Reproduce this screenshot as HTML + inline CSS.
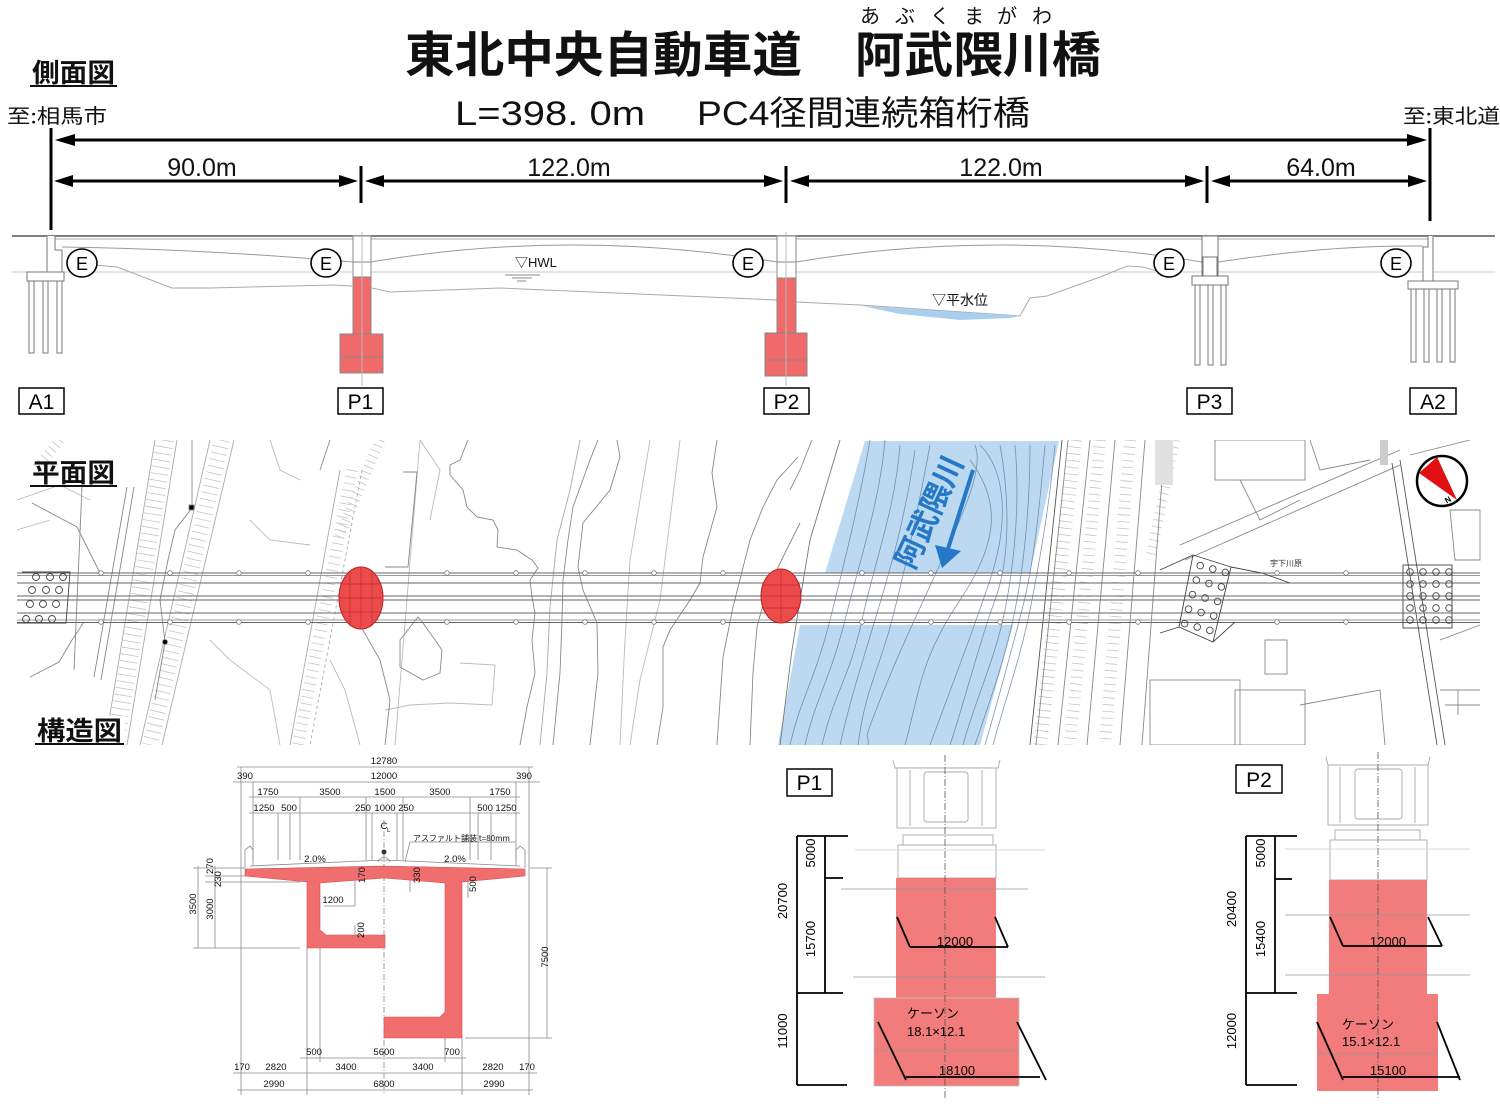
<!DOCTYPE html>
<html><head><meta charset="utf-8">
<style>
html,body{margin:0;padding:0;background:#fff;}
svg{display:block;}
text{font-family:"Liberation Sans","Noto Sans CJK JP",sans-serif;}
.jp{font-family:"Noto Sans CJK JP","Liberation Sans",sans-serif;}
</style></head><body>
<svg width="1500" height="1106" viewBox="0 0 1500 1106" xmlns="http://www.w3.org/2000/svg">
<rect width="1500" height="1106" fill="#fff"/>

<!-- ================= TITLES ================= -->
<g class="jp" fill="#111" font-size="20">
<text x="870" y="23" text-anchor="middle">あ</text>
<text x="905" y="23" text-anchor="middle">ぶ</text>
<text x="940" y="23" text-anchor="middle">く</text>
<text x="974" y="23" text-anchor="middle">ま</text>
<text x="1007" y="23" text-anchor="middle">が</text>
<text x="1042" y="23" text-anchor="middle">わ</text>
</g>
<text class="jp" x="405" y="72" font-size="49" font-weight="bold" fill="#111" textLength="397" lengthAdjust="spacingAndGlyphs">東北中央自動車道</text>
<text class="jp" x="855" y="72" font-size="49" font-weight="bold" fill="#111" textLength="246" lengthAdjust="spacingAndGlyphs">阿武隈川橋</text>
<text x="455" y="125" font-size="34" fill="#111" textLength="190" lengthAdjust="spacingAndGlyphs">L=398. 0m</text>
<text x="697" y="125" font-size="34" fill="#111" textLength="333" lengthAdjust="spacingAndGlyphs">PC4径間連続箱桁橋</text>

<text class="jp" x="32" y="82" font-size="26" font-weight="bold" fill="#111" textLength="83" lengthAdjust="spacingAndGlyphs">側面図</text>
<line x1="30" y1="86" x2="117" y2="86" stroke="#111" stroke-width="2"/>
<text class="jp" x="7" y="123" font-size="20" fill="#111" textLength="100" lengthAdjust="spacingAndGlyphs">至:相馬市</text>
<text class="jp" x="1403" y="123" font-size="20" fill="#111" textLength="97" lengthAdjust="spacingAndGlyphs">至:東北道</text>

<!-- ================= DIMENSIONS (side view) ================= -->
<g stroke="#000" stroke-width="3" fill="none">
<line x1="51" y1="128" x2="51" y2="230"/>
<line x1="1430" y1="128" x2="1430" y2="221"/>
<line x1="361" y1="166" x2="361" y2="203"/>
<line x1="786" y1="166" x2="786" y2="203"/>
<line x1="1207" y1="166" x2="1207" y2="203"/>
<line x1="70" y1="140" x2="1412" y2="140"/>
<line x1="70" y1="181" x2="342" y2="181"/>
<line x1="381" y1="181" x2="767" y2="181"/>
<line x1="806" y1="181" x2="1188" y2="181"/>
<line x1="1227" y1="181" x2="1412" y2="181"/>
</g>
<g fill="#000">
<polygon points="55,140 75,134 75,146"/>
<polygon points="1427,140 1407,134 1407,146"/>
<polygon points="54,181 73,175 73,187"/>
<polygon points="358,181 339,175 339,187"/>
<polygon points="365,181 384,175 384,187"/>
<polygon points="783,181 764,175 764,187"/>
<polygon points="790,181 809,175 809,187"/>
<polygon points="1204,181 1185,175 1185,187"/>
<polygon points="1211,181 1230,175 1230,187"/>
<polygon points="1427,181 1408,175 1408,187"/>
</g>
<g font-size="25" fill="#111" text-anchor="middle">
<text x="202" y="176">90.0m</text>
<text x="569" y="176">122.0m</text>
<text x="1001" y="176">122.0m</text>
<text x="1321" y="176">64.0m</text>
</g>

<!-- ================= SIDE VIEW ================= -->
<g fill="none" stroke="#999" stroke-width="1">
<line x1="12" y1="272" x2="1495" y2="272" stroke="#c8c8c8"/>
<line x1="12" y1="236" x2="1495" y2="236" stroke="#555" stroke-width="1.4"/>
<line x1="55" y1="239" x2="1428" y2="239" stroke="#aaa"/>
<path d="M62,247 Q200,249 353,262 M371,262 Q570,228 777,262 M796,262 Q1000,228 1202,262 M1218,262 Q1330,245 1423,246"/>
<path d="M95,265 L117,267 L172,288 L210,288 L333,285 L352,286 M372,288 L390,292 L500,288 L777,300 M796,302 L860,305 L1020,316 L1030,298 L1047,296 L1100,277 L1127,266 L1143,267 L1160,272" stroke="#aaa"/>
</g>
<path d="M862,306 L1020,316 L1010,318 L960,320 L900,314 Z" fill="#a9cff0"/>
<g stroke="#888" stroke-width="1" fill="none">
<line x1="505" y1="275" x2="540" y2="275"/>
<line x1="512" y1="278" x2="532" y2="278"/>
<line x1="517" y1="281" x2="526" y2="281"/>
</g>
<text x="515" y="267" font-size="13" fill="#111">▽HWL</text>
<text class="jp" x="932" y="305" font-size="14" fill="#111">▽平水位</text>

<!-- A1 -->
<g fill="#fff" stroke="#777" stroke-width="1">
<path d="M47,236 L47,272 L62,272 L62,250 L55,250 L55,236"/>
<rect x="27" y="272" width="37" height="9"/>
<rect x="29" y="281" width="5" height="72"/>
<rect x="43" y="281" width="5" height="72"/>
<rect x="57" y="281" width="5" height="72"/>
</g>
<!-- P1 -->
<g stroke="#888" stroke-width="1">
<rect x="353" y="236" width="18" height="41" fill="#fff"/>
<line x1="353" y1="262" x2="371" y2="262"/>
<rect x="353" y="277" width="18" height="57" fill="#f06a6a"/>
<rect x="340" y="334" width="43" height="39" fill="#f06a6a"/>
<line x1="340" y1="357" x2="383" y2="357"/>
<line x1="362" y1="232" x2="362" y2="386" stroke="#bbb"/>
</g>
<!-- P2 -->
<g stroke="#888" stroke-width="1">
<rect x="777" y="236" width="19" height="42" fill="#fff"/>
<line x1="777" y1="262" x2="796" y2="262"/>
<rect x="777" y="278" width="19" height="55" fill="#f06a6a"/>
<rect x="765" y="333" width="42" height="43" fill="#f06a6a"/>
<line x1="765" y1="360" x2="807" y2="360"/>
<line x1="786" y1="232" x2="786" y2="386" stroke="#bbb"/>
</g>
<!-- P3 -->
<g fill="#fff" stroke="#777" stroke-width="1">
<rect x="1202" y="236" width="16" height="40"/>
<rect x="1203" y="257" width="14" height="19"/>
<rect x="1192" y="276" width="36" height="9"/>
<rect x="1195" y="285" width="5" height="80"/>
<rect x="1208" y="285" width="5" height="80"/>
<rect x="1221" y="285" width="5" height="80"/>
</g>
<!-- A2 -->
<g fill="#fff" stroke="#777" stroke-width="1">
<path d="M1428,236 L1428,247 L1423,247 L1423,281 L1433,281 L1433,236"/>
<rect x="1408" y="281" width="50" height="8"/>
<rect x="1411" y="289" width="5" height="73"/>
<rect x="1424" y="289" width="5" height="73"/>
<rect x="1437" y="289" width="5" height="73"/>
<rect x="1450" y="289" width="5" height="73"/>
</g>
<!-- E circles -->
<g fill="#fff" stroke="#000" stroke-width="1.6">
<ellipse cx="82" cy="263" rx="15" ry="14"/>
<ellipse cx="326" cy="263" rx="15" ry="14"/>
<ellipse cx="748" cy="263" rx="15" ry="14"/>
<ellipse cx="1169" cy="263" rx="15" ry="14"/>
<ellipse cx="1396" cy="263" rx="15" ry="14"/>
</g>
<g font-size="18" fill="#000" text-anchor="middle">
<text x="82" y="270">E</text><text x="326" y="270">E</text><text x="748" y="270">E</text><text x="1169" y="270">E</text><text x="1396" y="270">E</text>
</g>
<!-- Labels -->
<g fill="#fff" stroke="#000" stroke-width="1.5">
<rect x="19" y="388" width="45" height="26"/>
<rect x="338" y="388" width="45" height="26"/>
<rect x="764" y="388" width="45" height="26"/>
<rect x="1187" y="388" width="45" height="26"/>
<rect x="1410" y="388" width="46" height="26"/>
</g>
<g font-size="21" fill="#000" text-anchor="middle">
<text x="41.5" y="409">A1</text><text x="360.5" y="409">P1</text><text x="786.5" y="409">P2</text><text x="1209.5" y="409">P3</text><text x="1433" y="409">A2</text>
</g>

<!-- ================= PLAN VIEW ================= -->
<defs>
<clipPath id="planclip"><rect x="17" y="440" width="1465" height="305"/></clipPath>
</defs>
<g clip-path="url(#planclip)">
<!-- blue river -->
<polygon points="865,441 1059,441 1030,573 825,573" fill="#bcd9f1"/>
<polygon points="800,625 1013,625 980,745 778,745" fill="#bcd9f1"/>

<!-- hatch bands -->
<g fill="none" stroke="#c4c4c4">
<line x1="165" y1="440" x2="115" y2="745" stroke-width="18" stroke-dasharray="0.8 6"/>
<line x1="222" y1="440" x2="150" y2="745" stroke-width="16" stroke-dasharray="0.8 6"/>
<line x1="352" y1="470" x2="298" y2="745" stroke-width="12" stroke-dasharray="0.8 6"/>
<line x1="60" y1="440" x2="35" y2="470" stroke-width="10" stroke-dasharray="0.8 5"/>
<line x1="380" y1="440" x2="338" y2="540" stroke-width="10" stroke-dasharray="0.8 5"/>
<line x1="1075" y1="440" x2="1040" y2="745" stroke-width="14" stroke-dasharray="0.8 6"/>
<line x1="1100" y1="440" x2="1070" y2="745" stroke-width="12" stroke-dasharray="0.8 6"/>
<line x1="1130" y1="440" x2="1105" y2="745" stroke-width="12" stroke-dasharray="0.8 6"/>
<line x1="1175" y1="440" x2="1150" y2="560" stroke-width="10" stroke-dasharray="0.8 6"/>
</g>
<g fill="none" stroke="#888" stroke-width="0.9">
<!-- left side lines -->
<line x1="82" y1="487" x2="74" y2="670"/>
<line x1="127" y1="487" x2="94" y2="677"/>
<line x1="134" y1="487" x2="101" y2="680"/>
<line x1="155" y1="440" x2="105" y2="745" stroke="#aaa"/>
<line x1="177" y1="440" x2="127" y2="745" stroke="#aaa"/>
<line x1="210" y1="440" x2="140" y2="745" stroke="#aaa"/>
<line x1="234" y1="440" x2="162" y2="745" stroke="#aaa"/>
<path d="M192,440 L192,508 L175,530 L168,560 L160,600 L165,642 L155,700"/>
<rect x="189" y="505" width="5" height="5" fill="#000"/>
<circle cx="165" cy="642" r="2.5" fill="#000"/>
<path d="M32,503 L77,527 L100,573"/>
<path d="M30,677 L59,662 L72,640 L84,622"/>
<path d="M17,500 L60,485 L90,500" stroke="#bbb"/>
<path d="M17,530 L50,520" stroke="#bbb"/>
<line x1="340" y1="470" x2="290" y2="745" stroke="#aaa"/>
<line x1="362" y1="470" x2="310" y2="745" stroke-dasharray="3 3" stroke="#aaa"/>
<line x1="420" y1="440" x2="395" y2="745" stroke="#bbb"/>
<line x1="330" y1="440" x2="320" y2="470" />
<!-- contours middle -->
<path d="M468,440 L460,460 L450,465 L450,475 L463,490 L467,507 L477,517 L493,520 L498,530 L497,547 L517,550 L532,560 L538,568 L530,580 L532,597 L535,613 L532,640 L535,673 L527,707 L520,745"/>
<path d="M598,440 L590,460 L573,507 L568,540 L563,580 L562,620 L560,673 L553,745"/>
<path d="M580,440 L570,490 L557,540 L550,607 L547,673 L540,745" stroke="#aaa"/>
<path d="M617,440 L620,457 L610,490 L583,523 L578,567 L583,590 L597,623 L598,673 L590,745"/>
<path d="M717,440 L712,473 L717,507 L703,557 L700,583 L690,600 L670,630 L663,647 L663,707 L657,745"/>
<path d="M798,457 L777,480 L763,507 L750,540 L733,607 L723,657 L717,745"/>
<path d="M800,523 L783,557 L767,590 L757,627 L753,673 L750,745"/>
<path d="M812,440 L800,470 L790,490" />
<path d="M840,440 L825,490 L810,540 L800,600 L792,650 L780,745" stroke="#777"/>
<path d="M418,617 L400,640 L400,667 L423,680 L440,673 L442,650 L423,623 Z"/>
<path d="M403,472 L417,472 L408,567 L385,567" />
<path d="M460,663 L495,665 L492,705 L450,703 L410,705 L385,710" stroke="#bbb"/>
<path d="M420,440 L440,470 L430,520" stroke="#bbb"/>
<path d="M270,440 L280,470 L300,480" stroke="#bbb"/>
<path d="M250,520 L270,540 L310,545" stroke="#bbb"/>
<path d="M360,625 L380,660 L390,700 L385,745"/>
<path d="M330,660 L345,690 L360,745" stroke="#bbb"/>
<path d="M210,640 L230,660 L270,690 L280,745" stroke="#bbb"/>
<path d="M650,440 L640,500 L630,560 L625,640 L620,745" stroke="#bbb"/>
<path d="M680,440 L670,520 L660,600 L640,680 L630,745" stroke="#bbb"/>
</g>
<!-- river contours -->
<g fill="none" stroke="#5f7d9c" stroke-width="0.8" opacity="0.8">
<path d="M870,440 C860,500 845,560 830,620 S800,700 790,745"/>
<path d="M885,440 C880,500 860,560 845,620 S815,700 805,745"/>
<path d="M900,445 C895,510 875,560 862,620 S835,690 822,745"/>
<path d="M915,450 C905,520 890,570 875,620 S850,700 840,745"/>
<path d="M930,445 C920,500 905,570 892,620 S865,690 858,745"/>
<path d="M975,445 C985,470 960,520 935,575 S900,650 880,700 S870,730 868,745"/>
<path d="M970,460 C1000,500 1000,540 960,600 S920,690 905,745"/>
<path d="M980,445 C1005,470 1010,520 990,580 S950,690 930,745"/>
<path d="M1000,445 C1010,500 1010,560 995,600 S965,700 950,745"/>
<path d="M1015,445 C1020,500 1015,560 1005,610 S975,700 963,745"/>
<path d="M1030,445 C1030,500 1025,560 1015,610 S990,700 975,745"/>
<path d="M1045,445 C1040,500 1035,560 1022,610 S998,700 985,745"/>
<path d="M1055,445 C1050,500 1040,560 1030,610 S1005,700 993,745"/>
</g>
<!-- right side -->
<g fill="none" stroke="#888" stroke-width="0.9">
<line x1="1062" y1="440" x2="1030" y2="745" stroke="#555"/>
<line x1="1068" y1="440" x2="1036" y2="745"/>
<line x1="1090" y1="440" x2="1058" y2="745"/>
<line x1="1115" y1="440" x2="1087" y2="745"/>
<line x1="1145" y1="440" x2="1120" y2="745"/>
<line x1="1165" y1="440" x2="1142" y2="745"/>
<path d="M1180,545 L1400,450"/>
<path d="M1185,560 L1400,465"/>
<path d="M1392,463 L1437,745" stroke="#555"/>
<path d="M1400,460 L1445,745" stroke="#555"/>
<path d="M1410,455 L1470,440"/>
<rect x="1215" y="440" width="90" height="40"/>
<rect x="1265" y="640" width="22" height="34"/>
<rect x="1150" y="680" width="90" height="65"/>
<rect x="1235" y="690" width="70" height="55"/>
<path d="M1300,705 L1380,690 L1385,745"/>
<path d="M1440,690 L1480,690 M1445,705 L1480,705 M1458,690 L1458,715"/>
<path d="M1440,640 L1480,625"/>
<path d="M1450,510 L1480,510 L1480,560 L1455,560 Z"/>
<path d="M1310,440 L1320,470 L1370,460"/>
<path d="M1240,480 L1260,520 L1300,500"/>
</g>
<rect x="1380" y="440" width="8" height="25" fill="#ccc"/>
<rect x="1155" y="440" width="18" height="45" fill="#e0e0e0"/>

<!-- bridge lines -->
<g stroke="#666" stroke-width="1" fill="none">
<line x1="17" y1="573" x2="1480" y2="573"/>
<line x1="17" y1="575.5" x2="1480" y2="575.5" stroke="#999"/>
<line x1="17" y1="583" x2="1480" y2="583"/>
<line x1="17" y1="596" x2="1480" y2="596"/>
<line x1="17" y1="600" x2="1480" y2="600"/>
<line x1="17" y1="613" x2="1480" y2="613"/>
<line x1="17" y1="620" x2="1480" y2="620" stroke="#999"/>
<line x1="17" y1="622.5" x2="1480" y2="622.5"/>
</g>
<g fill="#fff" stroke="#777" stroke-width="0.8">
<circle cx="101" cy="573" r="2.3"/><circle cx="170" cy="573" r="2.3"/><circle cx="239" cy="573" r="2.3"/><circle cx="308" cy="573" r="2.3"/><circle cx="447" cy="573" r="2.3"/><circle cx="516" cy="573" r="2.3"/><circle cx="585" cy="573" r="2.3"/><circle cx="654" cy="573" r="2.3"/><circle cx="723" cy="573" r="2.3"/><circle cx="862" cy="573" r="2.3"/><circle cx="931" cy="573" r="2.3"/><circle cx="1000" cy="573" r="2.3"/><circle cx="1069" cy="573" r="2.3"/><circle cx="1138" cy="573" r="2.3"/><circle cx="1277" cy="573" r="2.3"/><circle cx="1346" cy="573" r="2.3"/>
<circle cx="101" cy="622" r="2.3"/><circle cx="170" cy="622" r="2.3"/><circle cx="239" cy="622" r="2.3"/><circle cx="308" cy="622" r="2.3"/><circle cx="447" cy="622" r="2.3"/><circle cx="516" cy="622" r="2.3"/><circle cx="585" cy="622" r="2.3"/><circle cx="654" cy="622" r="2.3"/><circle cx="723" cy="622" r="2.3"/><circle cx="862" cy="622" r="2.3"/><circle cx="931" cy="622" r="2.3"/><circle cx="1000" cy="622" r="2.3"/><circle cx="1069" cy="622" r="2.3"/><circle cx="1138" cy="622" r="2.3"/><circle cx="1277" cy="622" r="2.3"/><circle cx="1346" cy="622" r="2.3"/>
</g>
<!-- A1 pile group -->
<g fill="none" stroke="#444" stroke-width="0.9">
<path d="M22,572 L70,572 L66,623 L17,623"/>
<circle cx="36" cy="577" r="3.5"/><circle cx="50" cy="577" r="3.5"/><circle cx="63" cy="577" r="3.5"/>
<circle cx="32" cy="590" r="3.5"/><circle cx="46" cy="590" r="3.5"/><circle cx="59" cy="590" r="3.5"/>
<circle cx="30" cy="604" r="3.5"/><circle cx="43" cy="604" r="3.5"/><circle cx="56" cy="604" r="3.5"/>
<circle cx="26" cy="619" r="3.5"/><circle cx="39" cy="619" r="3.5"/><circle cx="52" cy="619" r="3.5"/>
</g>
<!-- P3 pile group -->
<g fill="none" stroke="#444" stroke-width="0.9">
<polygon points="1193,555 1231,567 1213,642 1179,627"/>
<path d="M1160,570 L1193,555 M1231,567 L1262,573 L1290,583 M1179,627 L1160,633 M1213,642 L1235,622"/>
<g transform="rotate(15 1205 598)">
<circle cx="1192" cy="568" r="3.3"/><circle cx="1205" cy="568" r="3.3"/><circle cx="1218" cy="568" r="3.3"/>
<circle cx="1192" cy="583" r="3.3"/><circle cx="1205" cy="583" r="3.3"/><circle cx="1218" cy="583" r="3.3"/>
<circle cx="1192" cy="598" r="3.3"/><circle cx="1205" cy="598" r="3.3"/><circle cx="1218" cy="598" r="3.3"/>
<circle cx="1192" cy="613" r="3.3"/><circle cx="1205" cy="613" r="3.3"/><circle cx="1218" cy="613" r="3.3"/>
<circle cx="1192" cy="628" r="3.3"/><circle cx="1205" cy="628" r="3.3"/><circle cx="1218" cy="628" r="3.3"/>
</g>
</g>
<!-- A2 pile group -->
<g fill="none" stroke="#444" stroke-width="0.9">
<rect x="1403" y="565" width="49" height="63"/>
<circle cx="1410" cy="572" r="3.3"/><circle cx="1423" cy="572" r="3.3"/><circle cx="1436" cy="572" r="3.3"/><circle cx="1449" cy="572" r="3.3"/>
<circle cx="1410" cy="584" r="3.3"/><circle cx="1423" cy="584" r="3.3"/><circle cx="1436" cy="584" r="3.3"/><circle cx="1449" cy="584" r="3.3"/>
<circle cx="1410" cy="596" r="3.3"/><circle cx="1423" cy="596" r="3.3"/><circle cx="1436" cy="596" r="3.3"/><circle cx="1449" cy="596" r="3.3"/>
<circle cx="1410" cy="608" r="3.3"/><circle cx="1423" cy="608" r="3.3"/><circle cx="1436" cy="608" r="3.3"/><circle cx="1449" cy="608" r="3.3"/>
<circle cx="1410" cy="620" r="3.3"/><circle cx="1423" cy="620" r="3.3"/><circle cx="1436" cy="620" r="3.3"/><circle cx="1449" cy="620" r="3.3"/>
</g>
<text x="1270" y="566" font-size="8" fill="#333" class="jp">宇下川原</text>

<!-- red ellipses -->
<ellipse cx="361" cy="598" rx="22" ry="31" fill="#ec4b4b" stroke="#c02020" stroke-width="1"/>
<ellipse cx="781" cy="596" rx="20" ry="27" fill="#ec4b4b" stroke="#c02020" stroke-width="1"/>
<g stroke="#a01818" stroke-width="0.7" opacity="0.6">
<line x1="341" y1="584" x2="381" y2="584"/><line x1="340" y1="598" x2="382" y2="598"/><line x1="341" y1="612" x2="381" y2="612"/><line x1="361" y1="568" x2="361" y2="628"/><line x1="350" y1="570" x2="350" y2="626"/><line x1="372" y1="570" x2="372" y2="626"/>
<line x1="762" y1="585" x2="800" y2="585"/><line x1="761" y1="596" x2="801" y2="596"/><line x1="762" y1="608" x2="800" y2="608"/><line x1="781" y1="570" x2="781" y2="622"/>
</g>

<!-- river label -->
<text class="jp" x="927" y="511" font-size="30" font-weight="bold" fill="#2378c8" text-anchor="middle" dominant-baseline="central" textLength="120" lengthAdjust="spacingAndGlyphs" transform="rotate(-65 927 511)">阿武隈川</text>
<line x1="973" y1="470" x2="946" y2="555" stroke="#2378c8" stroke-width="4"/>
<polygon points="942,568 935,545 961,551" fill="#2378c8"/>

<!-- compass -->
<circle cx="1442" cy="481" r="25" fill="#fff" stroke="#000" stroke-width="2.5"/>
<polygon points="1419,473 1437,457 1457,500" fill="#e01010"/>
<text x="1445" y="503" font-size="8" font-weight="bold" fill="#000" transform="rotate(-30 1447 500)">N</text>
</g>

<text class="jp" x="32" y="482" font-size="26" font-weight="bold" fill="#111" textLength="83" lengthAdjust="spacingAndGlyphs">平面図</text>
<line x1="30" y1="486" x2="117" y2="486" stroke="#111" stroke-width="2"/>
<rect x="30" y="716" width="95" height="29" fill="#fff"/>
<text class="jp" x="37" y="740" font-size="26" font-weight="bold" fill="#111" textLength="85" lengthAdjust="spacingAndGlyphs">構造図</text>
<line x1="35" y1="744" x2="124" y2="744" stroke="#111" stroke-width="2"/>

<!-- ================= CROSS SECTION ================= -->
<g stroke="#888" stroke-width="0.8" fill="none">
<line x1="241" y1="767" x2="241" y2="1095"/>
<line x1="529" y1="767" x2="529" y2="1095"/>
<line x1="253" y1="782" x2="253" y2="860"/>
<line x1="516" y1="782" x2="516" y2="860"/>
<line x1="300" y1="797" x2="300" y2="860"/>
<line x1="366" y1="797" x2="366" y2="860"/>
<line x1="403" y1="797" x2="403" y2="860"/>
<line x1="470" y1="797" x2="470" y2="860"/>
<line x1="278" y1="813" x2="278" y2="860"/>
<line x1="290" y1="813" x2="290" y2="860"/>
<line x1="372" y1="813" x2="372" y2="860"/>
<line x1="397" y1="813" x2="397" y2="860"/>
<line x1="478" y1="813" x2="478" y2="860"/>
<line x1="491" y1="813" x2="491" y2="860"/>
<line x1="384" y1="820" x2="384" y2="1095" stroke-dasharray="6 2 1 2"/>
<line x1="307" y1="948" x2="307" y2="1095"/>
<line x1="320" y1="935" x2="320" y2="1062"/>
<line x1="462" y1="1038" x2="462" y2="1095"/>
<line x1="445" y1="1038" x2="445" y2="1062"/>
<line x1="237" y1="767" x2="533" y2="767"/>
<line x1="233" y1="782" x2="540" y2="782"/>
<line x1="249" y1="797" x2="520" y2="797"/>
<line x1="249" y1="813" x2="520" y2="813"/>
<line x1="300" y1="1058" x2="466" y2="1058"/>
<line x1="233" y1="1073" x2="537" y2="1073"/>
<line x1="237" y1="1090" x2="533" y2="1090"/>
<line x1="198" y1="866" x2="198" y2="948"/>
<line x1="215" y1="866" x2="215" y2="948"/>
<line x1="193" y1="868" x2="245" y2="868"/>
<line x1="205" y1="876" x2="245" y2="876"/>
<line x1="205" y1="882" x2="300" y2="882"/>
<line x1="193" y1="948" x2="300" y2="948"/>
<line x1="547" y1="868" x2="547" y2="1038"/>
<line x1="530" y1="868" x2="552" y2="868"/>
<line x1="465" y1="1038" x2="552" y2="1038"/>
<line x1="324" y1="906" x2="355" y2="906"/>
<line x1="355" y1="878" x2="355" y2="906"/>
<line x1="410" y1="842" x2="515" y2="842"/>
<line x1="410" y1="842" x2="405" y2="862"/>
<line x1="355" y1="925" x2="355" y2="945"/>
<line x1="410" y1="872" x2="410" y2="892"/>
<line x1="468" y1="872" x2="468" y2="898"/>
<path d="M250,866 L384,860 L520,866"/>
<path d="M245,868 L245,850 L250,846 L253,850 L253,866"/>
<path d="M525,868 L525,850 L520,846 L516,850 L516,866"/>
<path d="M378,862 Q384,852 390,862"/>
</g>
<path d="M245,869 L384,866 L525,869 L525,876 L462,882 L462,1038 L384,1038 L384,1017 L440,1017 L445,1012 L445,883 L384,878 L320,883 L320,930 L326,935 L385,935 L385,948 L307,948 L307,882 L245,876 Z" fill="#f06e6e" stroke="#d05050" stroke-width="0.6"/>
<g fill="#111" font-size="9.5" text-anchor="middle">
<text x="384" y="764">12780</text>
<text x="245" y="779">390</text><text x="384" y="779">12000</text><text x="524" y="779">390</text>
<text x="268" y="795">1750</text><text x="330" y="795">3500</text><text x="385" y="795">1500</text><text x="440" y="795">3500</text><text x="500" y="795">1750</text>
<text x="264" y="811">1250</text><text x="289" y="811">500</text><text x="363" y="811">250</text><text x="385" y="811">1000</text><text x="406" y="811">250</text><text x="485" y="811">500</text><text x="506" y="811">1250</text>
<text x="384" y="829">C</text>
<text x="315" y="862">2.0%</text><text x="455" y="862">2.0%</text>
<text x="333" y="903">1200</text>
<text x="314" y="1055">500</text><text x="384" y="1055">5600</text><text x="452" y="1055">700</text>
<text x="242" y="1070">170</text><text x="276" y="1070">2820</text><text x="346" y="1070">3400</text><text x="423" y="1070">3400</text><text x="493" y="1070">2820</text><text x="527" y="1070">170</text>
<text x="274" y="1087">2990</text><text x="384" y="1087">6800</text><text x="494" y="1087">2990</text>
<text x="213" y="866" transform="rotate(-90 213 866)">270</text>
<text x="221" y="879" transform="rotate(-90 221 879)">230</text>
<text x="196" y="910" transform="rotate(-90 193 907)">3500</text>
<text x="213" y="915" transform="rotate(-90 210 912)">3000</text>
<text x="365" y="881" transform="rotate(-90 362 878)">170</text>
<text x="420" y="881" transform="rotate(-90 417 878)">330</text>
<text x="476" y="890" transform="rotate(-90 473 887)">500</text>
<text x="364" y="936" transform="rotate(-90 361 933)">200</text>
<text x="548" y="963" transform="rotate(-90 545 960)">7500</text>
</g>
<text x="387" y="832" font-size="6" fill="#111">L</text>
<text class="jp" x="413" y="841" font-size="8" fill="#111">アスファルト舗装 t=80mm</text>
<circle cx="384" cy="852" r="2.5" fill="#333"/>

<!-- ================= P1 DETAIL ================= -->
<g fill="#fff" stroke="#aaa" stroke-width="0.9">
<path d="M893,760 L895,768 L998,768 L1000,760"/>
<rect x="897" y="768" width="99" height="60"/>
<rect x="924" y="772" width="44" height="50" rx="3"/>
<line x1="910" y1="770" x2="910" y2="826"/><line x1="982" y1="770" x2="982" y2="826"/>
<rect x="903" y="835" width="90" height="10"/>
<rect x="898" y="845" width="98" height="33"/>
</g>
<rect x="896" y="878" width="100" height="120" fill="#f27b7b"/>
<rect x="874" y="998" width="145" height="88" fill="#f27b7b" stroke="#c0c0c0" stroke-width="0.8"/>
<g stroke="#999" stroke-width="0.8">
<line x1="855" y1="850" x2="1045" y2="850" stroke="#ccc"/>
<line x1="841" y1="889" x2="1028" y2="889"/>
<line x1="853" y1="977" x2="1045" y2="977"/>
<line x1="874" y1="1050" x2="1019" y2="1050"/>
<line x1="945" y1="755" x2="945" y2="1100" stroke="#555" stroke-dasharray="7 2 1 2"/>
</g>
<g stroke="#000" stroke-width="1.8" fill="none">
<line x1="797" y1="836" x2="797" y2="1085"/>
<line x1="825" y1="836" x2="825" y2="993"/>
<line x1="797" y1="836" x2="848" y2="836"/>
<line x1="825" y1="878" x2="843" y2="878"/>
<line x1="797" y1="993" x2="843" y2="993"/>
<line x1="797" y1="1085" x2="847" y2="1085"/>
<line x1="897" y1="917" x2="910" y2="947"/><line x1="995" y1="917" x2="1008" y2="947"/><line x1="910" y1="947" x2="1008" y2="947"/>
<line x1="878" y1="1022" x2="906" y2="1080"/><line x1="1017" y1="1022" x2="1046" y2="1080"/><line x1="906" y1="1077" x2="1040" y2="1077"/>
</g>
<rect x="787" y="769" width="45" height="27" fill="#fff" stroke="#000" stroke-width="1.5"/>
<text x="809.5" y="790" font-size="21" text-anchor="middle" fill="#000">P1</text>
<g font-size="13" fill="#000" class="jp">
<text x="791" y="905" text-anchor="middle" transform="rotate(-90 787 905)">20700</text>
<text x="819" y="857" text-anchor="middle" transform="rotate(-90 815 857)">5000</text>
<text x="819" y="943" text-anchor="middle" transform="rotate(-90 815 943)">15700</text>
<text x="791" y="1035" text-anchor="middle" transform="rotate(-90 787 1035)">11000</text>
<text x="955" y="946" text-anchor="middle">12000</text>
<text x="907" y="1018">ケーソン</text>
<text x="907" y="1036">18.1×12.1</text>
<text x="957" y="1075" text-anchor="middle">18100</text>
</g>

<!-- ================= P2 DETAIL ================= -->
<g fill="#fff" stroke="#aaa" stroke-width="0.9">
<path d="M1326,757 L1328,765 L1428,765 L1430,757"/>
<rect x="1328" y="765" width="100" height="60"/>
<rect x="1355" y="769" width="47" height="50" rx="3"/>
<line x1="1340" y1="767" x2="1340" y2="823"/><line x1="1415" y1="767" x2="1415" y2="823"/>
<rect x="1335" y="830" width="85" height="10"/>
<rect x="1330" y="840" width="97" height="40"/>
</g>
<rect x="1329" y="880" width="98" height="114" fill="#f27b7b"/>
<rect x="1317" y="994" width="121" height="97" fill="#f27b7b"/>
<g stroke="#999" stroke-width="0.8">
<line x1="1285" y1="849" x2="1470" y2="849" stroke="#ccc"/>
<line x1="1285" y1="915" x2="1470" y2="915"/>
<line x1="1285" y1="975" x2="1470" y2="975"/>
<line x1="1317" y1="1054" x2="1438" y2="1054"/>
<line x1="1378" y1="752" x2="1378" y2="1100" stroke="#555" stroke-dasharray="7 2 1 2"/>
</g>
<g stroke="#000" stroke-width="1.8" fill="none">
<line x1="1246" y1="836" x2="1246" y2="1085"/>
<line x1="1275" y1="836" x2="1275" y2="993"/>
<line x1="1246" y1="836" x2="1297" y2="836"/>
<line x1="1275" y1="879" x2="1292" y2="879"/>
<line x1="1246" y1="993" x2="1297" y2="993"/>
<line x1="1246" y1="1085" x2="1297" y2="1085"/>
<line x1="1330" y1="917" x2="1343" y2="946"/><line x1="1428" y1="917" x2="1442" y2="946"/><line x1="1343" y1="946" x2="1442" y2="946"/>
<line x1="1317" y1="1022" x2="1343" y2="1080"/><line x1="1437" y1="1022" x2="1460" y2="1080"/><line x1="1343" y1="1077" x2="1460" y2="1077"/>
</g>
<rect x="1236" y="765" width="46" height="28" fill="#fff" stroke="#000" stroke-width="1.5"/>
<text x="1259" y="787" font-size="21" text-anchor="middle" fill="#000">P2</text>
<g font-size="13" fill="#000" class="jp">
<text x="1240" y="913" text-anchor="middle" transform="rotate(-90 1236 913)">20400</text>
<text x="1269" y="857" text-anchor="middle" transform="rotate(-90 1265 857)">5000</text>
<text x="1269" y="943" text-anchor="middle" transform="rotate(-90 1265 943)">15400</text>
<text x="1240" y="1035" text-anchor="middle" transform="rotate(-90 1236 1035)">12000</text>
<text x="1388" y="946" text-anchor="middle">12000</text>
<text x="1342" y="1029">ケーソン</text>
<text x="1342" y="1046">15.1×12.1</text>
<text x="1388" y="1075" text-anchor="middle">15100</text>
</g>
</svg>
</body></html>
